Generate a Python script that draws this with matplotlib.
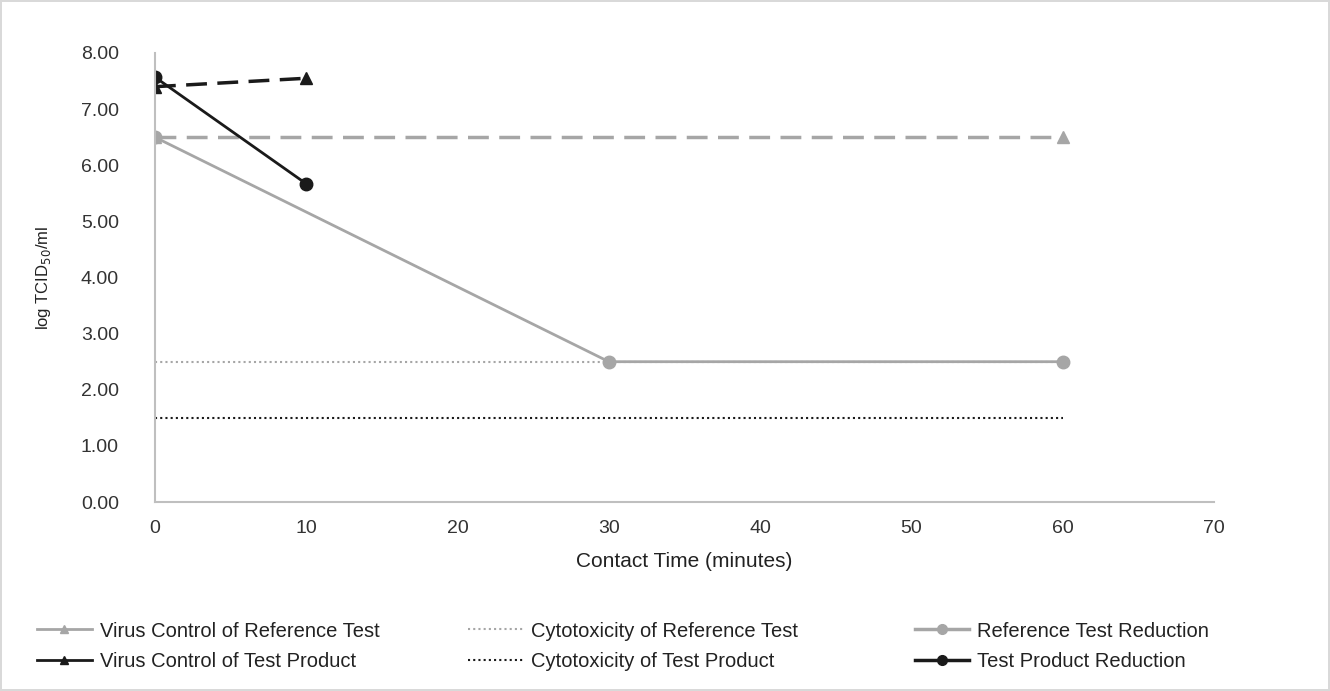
import matplotlib.pyplot as plt
from matplotlib.lines import Line2D

plt.rcParams['font.family'] = ['Liberation Sans', 'DejaVu Sans']

# Datos.
vc_ref_t = [0, 60]
vc_ref_y = [6.50, 6.50]

vc_tp_t = [0, 10]
vc_tp_y = [7.40, 7.55]

cyto_ref_t = [0, 60]
cyto_ref_y = [2.50, 2.50]

cyto_tp_t = [0, 60]
cyto_tp_y = [1.50, 1.50]

red_ref_t = [0, 30, 60]
red_ref_y = [6.50, 2.50, 2.50]

red_tp_t = [0, 10]
red_tp_y = [7.57, 5.67]

yticks = [0, 1, 2, 3, 4, 5, 6, 7, 8]
xticks = [0, 10, 20, 30, 40, 50, 60, 70]

gris = '#a6a6a6'
negro = '#1a1a1a'

fig = plt.figure(figsize=(13.3, 6.91), dpi=100)
fig.patch.set_edgecolor('#d9d9d9')
fig.patch.set_linewidth(1.5)
ax = fig.add_axes([0.1165, 0.2735, 0.7963, 0.6498])

ax.plot(vc_ref_t, vc_ref_y, color=gris, linewidth=2.5, linestyle=(0, (6, 3)),
        marker='^', markersize=8)
ax.plot(vc_tp_t, vc_tp_y, color=negro, linewidth=2.5, linestyle=(0, (6, 3)),
        marker='^', markersize=8)
ax.plot(cyto_ref_t, cyto_ref_y, color=gris, linewidth=1.5, linestyle=(0, (1, 1.5)))
ax.plot(cyto_tp_t, cyto_tp_y, color=negro, linewidth=1.5, linestyle=(0, (1, 1.5)))
ax.plot(red_ref_t, red_ref_y, color=gris, linewidth=2, marker='o', markersize=9)
ax.plot(red_tp_t, red_tp_y, color=negro, linewidth=2, marker='o', markersize=9)

ax.set_xlim(0, 70)
ax.set_ylim(0, 8)
ax.set_xticks(xticks)
ax.set_yticks(yticks)
ax.set_yticklabels(['{:.2f}'.format(v) for v in yticks])
ax.tick_params(length=0, labelsize=14, colors='#333333')
ax.tick_params(axis='y', pad=26)
ax.tick_params(axis='x', pad=13)

for s in ['top', 'right']:
    ax.spines[s].set_visible(False)
for s in ['left', 'bottom']:
    ax.spines[s].set_color('#bfbfbf')
    ax.spines[s].set_linewidth(1.5)

ax.set_xlabel('Contact Time (minutes)', fontsize=15, color='#222222', labelpad=11)
ax.set_ylabel('log TCID$_{50}$/ml', fontsize=12, color='#222222', labelpad=20)

# Leyenda en tres columnas, cada una colocada por separado.
columnas = [
    (0.028, ['Virus Control of Reference Test', 'Virus Control of Test Product'],
     [Line2D([], [], color=gris, linewidth=2, marker='^', markersize=6),
      Line2D([], [], color=negro, linewidth=2, marker='^', markersize=6)]),
    (0.352, ['Cytotoxicity of Reference Test', 'Cytotoxicity of Test Product'],
     [Line2D([], [], color=gris, linewidth=1.5, linestyle=(0, (1, 1.5))),
      Line2D([], [], color=negro, linewidth=1.5, linestyle=(0, (1, 1.5)))]),
    (0.688, ['Reference Test Reduction', 'Test Product Reduction'],
     [Line2D([], [], color=gris, linewidth=2.5, marker='o', markersize=7),
      Line2D([], [], color=negro, linewidth=2.5, marker='o', markersize=7)]),
]
for x0, labs, hs in columnas:
    fig.legend(hs, labs, loc='center left', bbox_to_anchor=(x0, 0.065),
               frameon=False, fontsize=14.5, handlelength=2.7, borderpad=0,
               borderaxespad=0, labelspacing=0.55, handletextpad=0.4,
               labelcolor='#222222')

fig.savefig('out.png', dpi=100)
